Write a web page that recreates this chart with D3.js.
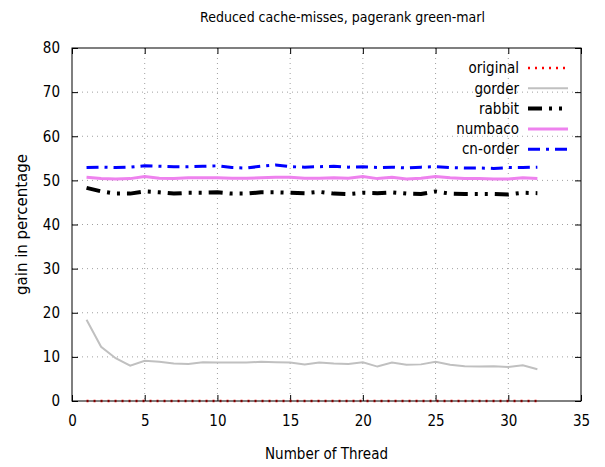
<!DOCTYPE html>
<html>
<head>
<meta charset="utf-8">
<script src="https://cdn.jsdelivr.net/npm/d3@7"></script>
<style>
  body { margin: 0; background: #fff; }
  #chart { width: 605px; height: 467px; }
  text { font-family: 'DejaVu Sans Condensed', 'DejaVu Sans', sans-serif; fill: #000; }
</style>
</head>
<body>
<div id="chart"></div>
<script>
// Dati
const threads = d3.range(1, 33);
const original = threads.map(() => 0);
const gorder = [18.4, 12.3, 9.7, 8.0, 9.1, 8.9, 8.5, 8.4, 8.8, 8.7, 8.7, 8.7, 8.9, 8.8, 8.7, 8.3,
  8.7, 8.5, 8.4, 8.8, 7.8, 8.7, 8.2, 8.3, 8.9, 8.2, 7.9, 7.8, 7.9, 7.7, 8.1, 7.2];
const rabbit = [48.3, 47.5, 47.0, 47.0, 47.5, 47.3, 47.0, 47.2, 47.2, 47.3, 47.0, 47.0, 47.3, 47.3, 47.2, 47.1,
  47.4, 47.0, 46.9, 47.2, 47.1, 47.3, 47.0, 46.9, 47.5, 47.0, 46.9, 46.9, 46.9, 46.8, 47.2, 47.1];
const numbaco = [50.7, 50.4, 50.3, 50.4, 50.9, 50.5, 50.4, 50.6, 50.6, 50.6, 50.5, 50.5, 50.6, 50.7, 50.7, 50.5,
  50.5, 50.6, 50.5, 50.9, 50.4, 50.7, 50.3, 50.5, 50.9, 50.6, 50.4, 50.4, 50.3, 50.3, 50.6, 50.4];
const cnOrder = [52.9, 53.0, 52.9, 53.0, 53.3, 53.2, 53.1, 53.1, 53.2, 53.3, 52.9, 52.8, 53.2, 53.5, 53.1, 53.0,
  53.1, 53.2, 53.0, 53.1, 52.9, 53.0, 52.8, 53.0, 53.1, 52.9, 52.8, 52.8, 52.7, 52.9, 52.9, 53.0];
const xTicks = [0, 5, 10, 15, 20, 25, 30, 35];
const yTicks = [0, 10, 20, 30, 40, 50, 60, 70, 80];

const series = [
  { name: 'original', values: original, color: '#ff0000', width: 2.5, dash: '2,5' },
  { name: 'gorder', values: gorder, color: '#c0c0c0', width: 2, dash: null },
  { name: 'rabbit', values: rabbit, color: '#000000', width: 4, dash: '14,7,3,7,3,7' },
  { name: 'numbaco', values: numbaco, color: '#ee82ee', width: 3, dash: null },
  { name: 'cn-order', values: cnOrder, color: '#0000ff', width: 3, dash: '12,6,3,6' }
];

const margin = { top: 48, right: 24, bottom: 66, left: 72 };
const totalW = 605, totalH = 467;
const width = totalW - margin.left - margin.right;
const height = totalH - margin.top - margin.bottom;

const svg = d3.select('#chart').append('svg')
  .attr('width', totalW)
  .attr('height', totalH);

const g = svg.append('g')
  .attr('transform', `translate(${margin.left},${margin.top})`);

const x = d3.scaleLinear().domain([0, 35]).range([0, width]);
const y = d3.scaleLinear().domain([0, 80]).range([height, 0]);

// Griglia
g.append('g').selectAll('line')
  .data(xTicks.slice(1, -1))
  .enter().append('line')
  .attr('x1', d => x(d)).attr('x2', d => x(d))
  .attr('y1', 0).attr('y2', height)
  .attr('stroke', '#a0a0a0').attr('stroke-width', 1).attr('stroke-dasharray', '1,4');

g.append('g').selectAll('line')
  .data(yTicks.slice(1, -1))
  .enter().append('line')
  .attr('x1', 0).attr('x2', width)
  .attr('y1', d => y(d)).attr('y2', d => y(d))
  .attr('stroke', '#a0a0a0').attr('stroke-width', 1).attr('stroke-dasharray', '1,4');

// Assi (tick interni, come gnuplot)
const xAxis = g.append('g')
  .attr('transform', `translate(0,${height})`)
  .call(d3.axisBottom(x).tickValues(xTicks).tickSizeInner(-6).tickSizeOuter(0).tickPadding(14));
const xAxisTop = g.append('g')
  .call(d3.axisTop(x).tickValues(xTicks).tickSizeInner(-6).tickSizeOuter(0).tickFormat(''));
const yAxis = g.append('g')
  .call(d3.axisLeft(y).tickValues(yTicks).tickSizeInner(-6).tickSizeOuter(0).tickPadding(12));
const yAxisRight = g.append('g')
  .attr('transform', `translate(${width},0)`)
  .call(d3.axisRight(y).tickValues(yTicks).tickSizeInner(-6).tickSizeOuter(0).tickFormat(''));

[xAxis, xAxisTop, yAxis, yAxisRight].forEach(a => {
  a.select('.domain').remove();
  a.selectAll('text').style('font-size', '15px').style('font-family', "'DejaVu Sans Condensed', sans-serif");
});

// Linee
const line = d3.line()
  .x((d, i) => x(threads[i]))
  .y(d => y(d));

series.forEach(s => {
  g.append('path')
    .datum(s.values)
    .attr('fill', 'none')
    .attr('stroke', s.color)
    .attr('stroke-width', s.width)
    .attr('stroke-dasharray', s.dash)
    .attr('d', line);
});

// Bordo
g.append('rect')
  .attr('width', width).attr('height', height)
  .attr('fill', 'none').attr('stroke', '#000').attr('stroke-width', 1);

// Legenda
const legend = g.append('g')
  .attr('transform', `translate(${width - 62}, 20)`);

series.forEach((s, i) => {
  const row = legend.append('g')
    .attr('transform', `translate(0, ${i * 20.3})`);
  row.append('text')
    .attr('x', 0).attr('dy', '0.35em')
    .style('text-anchor', 'end')
    .style('font-size', '15px')
    .text(s.name);
  row.append('line')
    .attr('x1', 9).attr('x2', 49)
    .attr('stroke', s.color)
    .attr('stroke-width', s.width)
    .attr('stroke-dasharray', s.dash);
});

// Titoli
svg.append('text')
  .attr('x', totalW / 2 + 40).attr('y', 22)
  .style('text-anchor', 'middle').style('font-size', '14px')
  .text('Reduced cache-misses, pagerank green-marl');

svg.append('text')
  .attr('x', margin.left + width / 2).attr('y', 459)
  .style('text-anchor', 'middle').style('font-size', '15px')
  .text('Number of Thread');

svg.append('text')
  .attr('transform', 'rotate(-90)')
  .attr('x', -(margin.top + height / 2)).attr('y', 27)
  .style('text-anchor', 'middle').style('font-size', '15px')
  .style('font-family', "'DejaVu Sans', sans-serif")
  .text('gain in percentage');
</script>
</body>
</html>
